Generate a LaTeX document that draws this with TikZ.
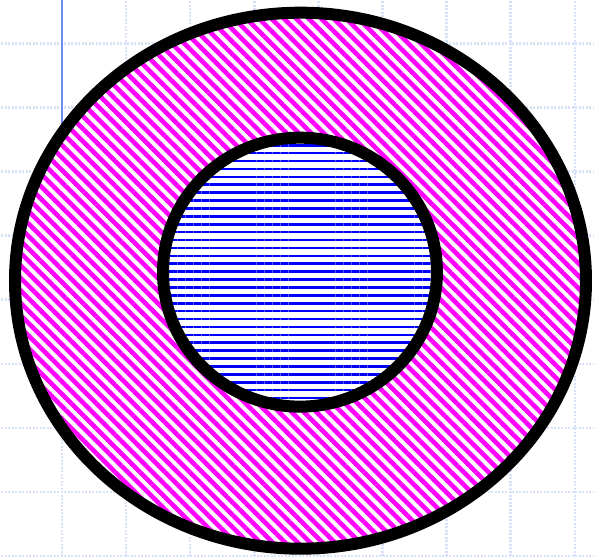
\documentclass[tikz,border=0pt]{standalone}
\usepackage{xcolor}
\usepackage{tikz}
\usetikzlibrary{patterns.meta}
\definecolor{gridblue}{RGB}{215,226,250}
\definecolor{axisblue}{RGB}{110,140,240}

\begin{document}
\begin{tikzpicture}[x=64.1pt,y=64.1pt]
    \useasboundingbox (-0.967,-4.0) rectangle (8.300,4.675);
    \draw[step=1,gridblue,line width=2.5pt,dash pattern=on 2pt off 1.5pt] (-1,-4) grid (8.3,4.675);
    \draw[axisblue,line width=2.5pt] (0,2) -- (0,4.675);
    % outer ring
    \fill[white] (3.721,0.296) ellipse [x radius=4.454,y radius=4.181];
    \fill[pattern={Lines[angle=-45,distance=8.8pt,line width=4.6pt]},pattern color=magenta] (3.721,0.296) ellipse [x radius=4.454,y radius=4.181];
    % inner disc
    \fill[white] (3.713,0.429) ellipse [x radius=2.137,y radius=2.098];
    \fill[pattern={Lines[angle=0,distance=7.9pt,line width=2.6pt]},pattern color=blue] (3.713,0.429) ellipse [x radius=2.137,y radius=2.098];
    \draw[line width=12pt] (3.721,0.296) ellipse [x radius=4.454,y radius=4.181];
    \draw[line width=12pt] (3.713,0.429) ellipse [x radius=2.137,y radius=2.098];
\end{tikzpicture}
\end{document}
